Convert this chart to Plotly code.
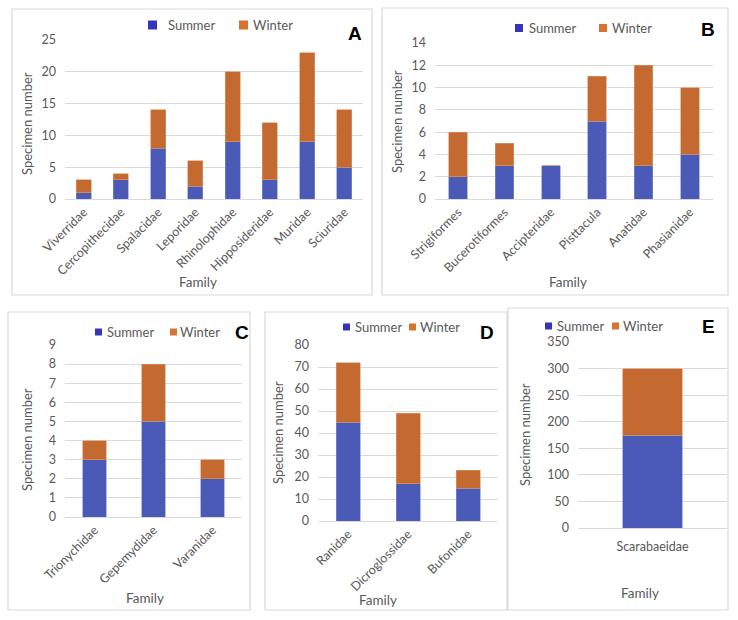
import plotly.graph_objects as go

W, H = 738, 620

# ---------------- data ----------------
a_families = ["Viverridae", "Cercopithecidae", "Spalacidae", "Leporidae",
              "Rhinolophidae", "Hipposideridae", "Muridae", "Sciuridae"]
a_summer = [1, 3, 8, 2, 9, 3, 9, 5]
a_winter = [2, 1, 6, 4, 11, 9, 14, 9]

b_families = ["Strigiformes", "Bucerotiformes", "Accipteridae", "Pisttacula",
              "Anatidae", "Phasianidae"]
b_summer = [2, 3, 3, 7, 3, 4]
b_winter = [4, 2, 0, 4, 9, 6]

c_families = ["Trionychidae", "Gepemydidae", "Varanidae"]
c_summer = [3, 5, 2]
c_winter = [1, 3, 1]

d_families = ["Ranidae", "Dicroglossidae", "Bufonidae"]
d_summer = [45, 17, 15]
d_winter = [27, 32, 8]

e_families = ["Scarabaeidae"]
e_summer = [175]
e_winter = [125]

series_names = ["Summer", "Winter"]
panel_letters = ["A", "B", "C", "D", "E"]
y_ranges = [(0, 25), (0, 14), (0, 9), (0, 80), (0, 350)]
y_dticks = [5, 2, 1, 10, 50]

# ---------------- layout geometry (pixels) ----------------
plot_px = [            # x0, x1, y_top, y_bottom
    (65, 363, 40, 199),
    (435, 713, 43, 199),
    (65, 242, 345, 517),
    (318, 498, 345, 521),
    (578, 727, 342, 528),
]
boxes_px = [
    (12, 9, 372, 295),
    (382, 8, 728, 295),
    (8, 312, 250, 610),
    (265, 312, 507, 610),
    (508, 308, 728, 610),
]
# legend: centre y, [(marker_left, text_left) for Summer, Winter], marker size
legend_px = [
    (25, [(148, 166), (239, 251)], 9),
    (28, [(515, 527), (599, 610)], 8),
    (332, [(95, 105), (170, 178)], 7),
    (327, [(343, 353), (409, 418)], 7),
    (326, [(545, 555), (612, 621)], 7),
]
letter_px = [(355, 33), (708, 30), (242, 332), (487, 332), (708, 326)]
ytitle_px = [(27, 124), (397, 122), (27, 440), (278, 433), (525, 435)]
family_px = [(198, 282), (568, 282), (145, 598), (378, 600), (640, 593)]

SUMMER = "#4A5AB6"
WINTER = "#C4692F"
SUMMER_KEY = "#3535BC"
WINTER_KEY = "#D8732F"
GRID = "#D9D9D9"
TXT = "#595959"
FONT = "Lato, Open Sans, sans-serif"


def px(x):
    return x / W


def py(y):
    return 1 - y / H


fig = go.Figure()

datasets = [
    (a_families, a_summer, a_winter),
    (b_families, b_summer, b_winter),
    (c_families, c_summer, c_winter),
    (d_families, d_summer, d_winter),
    (e_families, e_summer, e_winter),
]

annotations = []
shapes = []
layout = {}


def label(text, x, y, size, color=TXT, family=FONT, angle=0):
    return dict(text=text, x=px(x), y=py(y), xref="paper", yref="paper",
                xanchor="center", yanchor="middle", showarrow=False,
                textangle=angle, font=dict(family=family, size=size, color=color))


for i, (fams, summ, wint) in enumerate(datasets):
    n = i + 1
    xa = "x" if n == 1 else f"x{n}"
    ya = "y" if n == 1 else f"y{n}"
    fig.add_trace(go.Bar(x=fams, y=summ, name=series_names[0], marker_color=SUMMER,
                         marker_line=dict(color="#8090D8", width=0.6),
                         xaxis=xa, yaxis=ya, width=0.4, showlegend=False))
    fig.add_trace(go.Bar(x=fams, y=wint, name=series_names[1], marker_color=WINTER,
                         marker_line=dict(color="#E09A6A", width=0.6),
                         xaxis=xa, yaxis=ya, width=0.4, showlegend=False))

    x0, x1, yt, yb = plot_px[i]
    xkey = "xaxis" if n == 1 else f"xaxis{n}"
    ykey = "yaxis" if n == 1 else f"yaxis{n}"
    layout[xkey] = dict(domain=[px(x0), px(x1)], anchor=ya,
                        tickangle=0 if n == 5 else -45,
                        ticklabelstandoff=7 if n == 5 else 0,
                        tickfont=dict(family=FONT, size=12.5, color=TXT),
                        showline=True, linecolor=GRID, linewidth=1,
                        showgrid=False, ticks="", fixedrange=True,
                        automargin=False)
    layout[ykey] = dict(domain=[py(yb), py(yt)], anchor=xa,
                        range=list(y_ranges[i]), dtick=y_dticks[i],
                        showgrid=True, gridcolor=GRID, gridwidth=1,
                        zeroline=False, showline=False, ticks="",
                        ticklabelstandoff=8,
                        tickfont=dict(family=FONT, size=12.5, color=TXT),
                        fixedrange=True, automargin=False)

    # legend (keys + labels)
    ly, items, ms = legend_px[i]
    for (mx, tx), nm, col in zip(items, series_names, [SUMMER_KEY, WINTER_KEY]):
        shapes.append(dict(type="rect", xref="paper", yref="paper",
                           x0=px(mx), x1=px(mx + ms),
                           y0=py(ly + ms / 2), y1=py(ly - ms / 2),
                           fillcolor=col, line=dict(width=0)))
        annotations.append(dict(text=nm, x=px(tx), y=py(ly), xref="paper", yref="paper",
                                xanchor="left", yanchor="middle", showarrow=False,
                                font=dict(family=FONT, size=13, color=TXT)))

    bx0, by0, bx1, by1 = boxes_px[i]
    shapes.append(dict(type="rect", xref="paper", yref="paper",
                       x0=px(bx0), x1=px(bx1), y0=py(by1), y1=py(by0),
                       line=dict(color=GRID, width=1.2), layer="below"))

    lx, lyy = letter_px[i]
    annotations.append(label(f"<b>{panel_letters[i]}</b>", lx, lyy, 19, "#000000",
                             "Liberation Sans, Arial"))
    tx, ty = ytitle_px[i]
    annotations.append(label("Specimen number", tx, ty, 13, angle=-90))
    fx, fy = family_px[i]
    annotations.append(label("Family", fx, fy, 13.5))

fig.update_layout(
    width=W, height=H, margin=dict(l=0, r=0, t=0, b=0, autoexpand=False),
    paper_bgcolor="white", plot_bgcolor="white",
    barmode="stack", showlegend=False,
    annotations=annotations, shapes=shapes,
    **layout,
)

fig.write_html("out.html", config={"displayModeBar": False},
               post_script="document.body.style.margin='0';document.body.style.overflow='hidden';")
